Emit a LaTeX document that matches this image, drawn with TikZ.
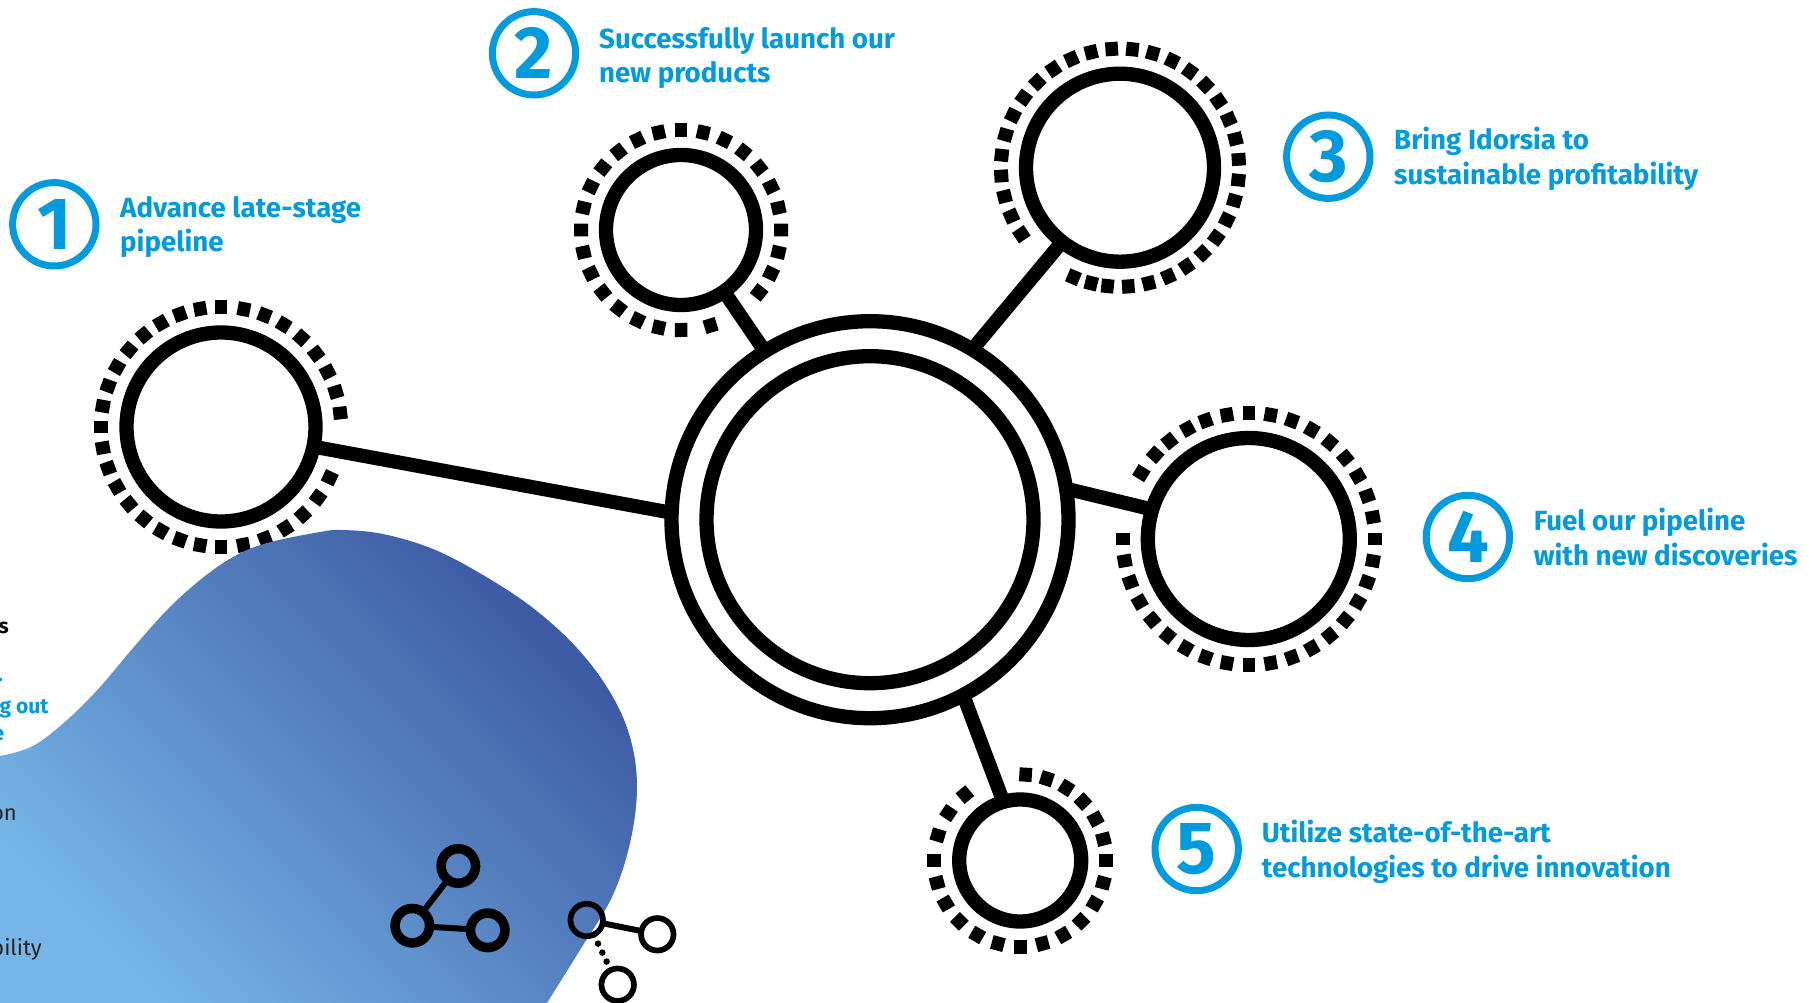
\documentclass[tikz,border=0pt]{standalone}
\usepackage{fontspec}
\setmainfont{Fira Sans}
\usetikzlibrary{calc}

\definecolor{numblue}{HTML}{009ADE}
\definecolor{blobdark}{RGB}{60,88,163}
\definecolor{bloblight}{RGB}{118,181,229}
\definecolor{fragtext}{HTML}{222222}

\tikzset{
  ringnode/.style={circle, draw=black, line width=14.3pt, outer sep=0pt, inner sep=0pt, minimum size=#1},
  spoke/.style={black, line width=14pt},
  dotmark/.style={black, line width=12.6pt},
  numring/.style={circle, draw=numblue, line width=7pt, text=numblue, outer sep=0pt, inner sep=0pt,
    minimum size=83.4pt, font=\fontsize{74}{74}\selectfont\bfseries},
  goal/.style={anchor=west, inner sep=0pt, align=left, text=numblue, font=\fontsize{27.7}{34.5}\selectfont\bfseries},
  fragbold/.style={anchor=base east, inner sep=0pt, font=\fontsize{21}{25}\selectfont\bfseries},
  fragthin/.style={anchor=base east, inner sep=0pt, text=fragtext, font=\fontsize{22}{25}\selectfont},
  iconthick/.style={circle, draw=black, line width=9.5pt, outer sep=0pt, inner sep=0pt, minimum size=34.5pt},
  iconthin/.style={circle, draw=black, line width=5.7pt, outer sep=0pt, inner sep=0pt, minimum size=32.5pt},
  iconline/.style={black, line width=6pt},
  icondots/.style={black, line width=6.5pt, line cap=round, dash pattern=on 0pt off 9.95pt},
}

\begin{document}
\begin{tikzpicture}[x=1pt,y=1pt]
\useasboundingbox (0,0) rectangle (1817,-1003);

% central circle
\node[ringnode=397pt] (core) at (870,-519.7) {};
\node[ringnode=327pt] (coreinner) at (870,-519.7) {};

% the five satellites
\node[ringnode=189pt] (hub1) at (221,-427) {};
\node[ringnode=150pt] (hub2) at (681,-230) {};
\node[ringnode=188pt] (hub3) at (1120,-167.7) {};
\node[ringnode=202pt] (hub4) at (1248.8,-539) {};
\node[ringnode=122pt] (hub5) at (1020.2,-860.5) {};

\draw[spoke] (core.178) -- (hub1.-12);
\draw[spoke] (core.122.4) -- (hub2.-55.7);
\draw[spoke] (core.59) -- (hub3.232);
\draw[spoke] (core.9.2) -- (hub4.163);
\draw[spoke] (core.-62.4) -- (hub5.106.3);

% dotted rings, gaps left near the spokes
\foreach \a in {90,100,...,270,280.7,291.5,302.5,313,324,335,6.7,17,27.3,37.6,48,58.5,68.7,79}
  \draw[dotmark] (hub1.center) ++(\a:113) -- ++(\a:14);
\foreach \a in {-72.8,-38.6,-25.74,...,271}
  \draw[dotmark] (hub2.center) ++(\a:93) -- ++(\a:14);
\foreach \a in {4,14,...,214,247,256,264,274,284,...,354}
  \draw[dotmark] (hub3.center) ++(\a:112) -- ++(\a:14);
\foreach \a in {0,10,...,110,119,129,138,148.5,180,190,...,350}
  \draw[dotmark] (hub4.center) ++(\a:119) -- ++(\a:14);
\foreach \a in {180,195,...,345,0,14.4,28.8,43.2,57.6,72,86.4,130,146.5,163}
  \draw[dotmark] (hub5.center) ++(\a:79) -- ++(\a:14);

% blob sits on top of the rings
\shade[left color=bloblight, right color=blobdark, shading angle=135]
  (0,-1003) -- plot[smooth, tension=.6] coordinates {(0,-756) (33,-746) (67,-720) (100,-687)
    (133,-648) (167,-610) (200,-580) (233,-557) (267,-543) (320,-532) (342,-530) (383,-534)
    (433,-549) (483,-575) (533,-608) (577,-648) (610,-692) (630,-737) (637,-787) (630,-843)
    (612,-897) (580,-950) (547,-1003)} -- cycle;

% text cut by the left page edge
\node[fragbold] (fragA) at (9,-633) {s};
\node[fragbold, text=numblue] (fragB) at (3,-681) {.};
\node[fragbold, text=numblue] (fragC) at (48.7,-713) {g out};
\node[fragbold, text=numblue] (fragD) at (4.3,-740) {e};
\node[fragthin] (fragE) at (17,-820) {on};
\node[fragthin] (fragF) at (42,-955) {bility};

% small icons
\node[iconthick] (iconA) at (458.3,-866) {};
\node[iconthick] (iconB) at (412.3,-925.7) {};
\node[iconthick] (iconC) at (487.7,-930.3) {};
\draw[iconline] (iconA) -- (iconB);
\draw[iconline] (iconB) -- (iconC);
\node[iconthin] (iconD) at (586.7,-920) {};
\node[iconthin] (iconE) at (657.3,-934.3) {};
\node[iconthin] (iconF) at (617.7,-984.7) {};
\draw[iconline] (iconD) -- (iconE);
\draw[icondots] (iconD) -- (iconF);

% numbered goals
\node[numring] (num1) at (54.3,-224.3) {1};
\node[numring] (num2) at (534,-53.3) {2};
\node[numring] (num3) at (1328.3,-156.7) {3};
\node[numring] (num4) at (1467.9,-537) {4};
\node[numring] (num5) at (1196.7,-849) {5};

\node[goal] (goal1) at (120,-227) {Advance late-stage\\pipeline};
\node[goal] (goal2) at (599,-58) {Successfully launch our\\new products};
\node[goal] (goal3) at (1394,-159) {Bring Idorsia to\\sustainable profitability};
\node[goal] (goal4) at (1533.6,-537) {Fuel our pipeline\\with new discoveries};
\node[goal] (goal5) at (1261.7,-852) {Utilize state-of-the-art\\technologies to drive innovation};
\end{tikzpicture}
\end{document}
